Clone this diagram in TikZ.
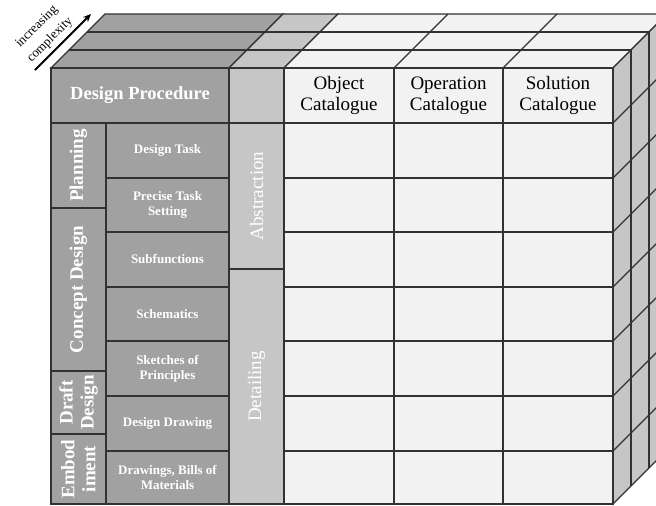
\documentclass[tikz,border=0pt]{standalone}
\usepackage{fontspec}
\setmainfont{Liberation Serif}
\usetikzlibrary{arrows.meta}
\definecolor{dgray}{RGB}{161,161,161}
\definecolor{mgray}{RGB}{198,198,198}
\definecolor{lgray}{RGB}{242,242,242}
\definecolor{edgec}{RGB}{50,50,50}
\newcommand\cellbox[7]{%
  \pgfmathsetmacro\cx{(#2+#4)/2}\pgfmathsetmacro\cy{(#3+#5)/2}%
  \pgfmathsetmacro\cw{#4-#2}\pgfmathsetmacro\ch{#5-#3}%
  \node[cellbase,#6,minimum width=\cw pt,minimum height=\ch pt] (#1) at (\cx,\cy) {#7};}
\newcommand\vcellbox[8]{%
  \cellbox{#1}{#2}{#3}{#4}{#5}{#6}{}%
  \node[#7,rotate=90] (#1-t) at (#1.center) {#8};}
\begin{document}
\begin{tikzpicture}[x=1pt,y=-1pt,
  cellbase/.style={draw=edgec,line width=1.1pt,inner sep=0pt,outer sep=0pt,align=center},
  edgeline/.style={draw=edgec,line width=1.1pt},
  procbox/.style={fill=dgray,text=white,font=\bfseries\fontsize{13}{15}\selectfont},
  headbox/.style={fill=dgray,text=white,font=\bfseries\fontsize{18.5}{21}\selectfont},
  catbox/.style={fill=lgray,text=black,font=\fontsize{19}{21}\selectfont},
  phasetext/.style={text=white,align=center,inner sep=0pt,font=\bfseries\fontsize{19}{21}\selectfont},
  abstext/.style={text=white,align=center,inner sep=0pt,font=\fontsize{19}{21}\selectfont},
  toptext/.style={inner sep=0pt,font=\fontsize{13}{14}\selectfont}]
\useasboundingbox (0,0) rectangle (656,506);
\clip (0,0) rectangle (656,506);
% top face
\filldraw[edgeline,fill=dgray] (51,68) -- (229,68) -- (283,14) -- (105,14) -- cycle;
\filldraw[edgeline,fill=mgray] (229,68) -- (284,68) -- (338,14) -- (283,14) -- cycle;
\filldraw[edgeline,fill=lgray] (284,68) -- (613,68) -- (667,14) -- (338,14) -- cycle;
\draw[edgeline] (69,50) -- (631,50);
\draw[edgeline] (87,32) -- (649,32);
\draw[edgeline] (394,68) -- (448,14);
\draw[edgeline] (503,68) -- (557,14);
% side face
\filldraw[edgeline,fill=mgray] (613,68) -- (667,14) -- (667,450) -- (613,504) -- cycle;
\draw[edgeline] (631,50) -- (631,486);
\draw[edgeline] (649,32) -- (649,468);
\foreach \yy in {123,178,232,287,341,396,451}{
  \draw[edgeline] (613,\yy) -- (667,\yy-54);
}
% header row
\cellbox{dp}{51}{68}{229}{123}{headbox}{Design Procedure}
\cellbox{hg}{229}{68}{284}{123}{fill=mgray}{}
\cellbox{oc}{284}{68}{394}{123}{catbox}{Object\\Catalogue}
\cellbox{opc}{394}{68}{503}{123}{catbox}{Operation\\Catalogue}
\cellbox{sc}{503}{68}{613}{123}{catbox}{Solution\\Catalogue}
% phases
\vcellbox{plan}{51}{123}{106}{208}{fill=dgray}{phasetext}{Planning}
\vcellbox{conc}{51}{208}{106}{371}{fill=dgray}{phasetext}{Concept Design}
\vcellbox{draft}{51}{371}{106}{434}{fill=dgray}{phasetext}{Draft\\Design}
\vcellbox{emb}{51}{434}{106}{504}{fill=dgray}{phasetext}{Embod\\iment}
% steps
\cellbox{s1}{106}{123}{229}{178}{procbox}{Design Task}
\cellbox{s2}{106}{178}{229}{232}{procbox}{Precise Task\\Setting}
\cellbox{s3}{106}{232}{229}{287}{procbox}{Subfunctions}
\cellbox{s4}{106}{287}{229}{341}{procbox}{Schematics}
\cellbox{s5}{106}{341}{229}{396}{procbox}{Sketches of\\Principles}
\cellbox{s6}{106}{396}{229}{451}{procbox}{Design Drawing}
\cellbox{s7}{106}{451}{229}{504}{procbox}{Drawings, Bills of\\Materials}
% abstraction / detailing
\vcellbox{abs}{229}{123}{284}{269}{fill=mgray}{abstext}{Abstraction}
\vcellbox{det}{229}{269}{284}{504}{fill=mgray}{abstext}{Detailing}
% catalogue cells
\foreach \ya/\yb [count=\r] in {123/178,178/232,232/287,287/341,341/396,396/451,451/504}{
  \foreach \xa/\xb [count=\c] in {284/394,394/503,503/613}{
    \cellbox{c\r-\c}{\xa}{\ya}{\xb}{\yb}{fill=lgray}{}
  }
}
% increasing complexity arrow
\coordinate (arrS) at (35,70);
\coordinate (arrE) at (91,14);
\draw[line width=1.8pt,-{Stealth[length=8pt,width=7pt]}] (arrS) -- (arrE);
\node[toptext,rotate=45] (ic1) at (37,27) {increasing};
\node[toptext,rotate=45] (ic2) at (50,40) {complexity};
\end{tikzpicture}
\end{document}
